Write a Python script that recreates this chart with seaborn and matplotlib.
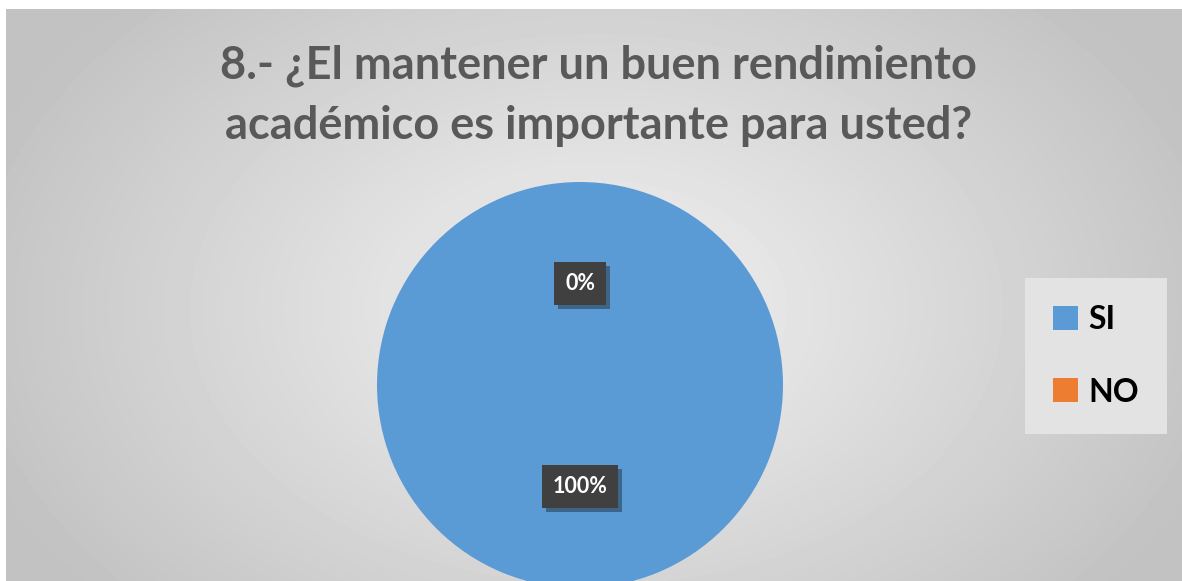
import numpy as np
import seaborn as sns
import matplotlib.pyplot as plt
import matplotlib.patheffects as pe
from matplotlib.patches import Patch

# data
categories = ["SI", "NO"]
values = [100, 0]
title = "8.- ¿El mantener un buen rendimiento\nacadémico es importante para usted?"

sns.set_theme(style="white")
plt.rcParams['font.family'] = ['Lato', 'DejaVu Sans']
colors = sns.color_palette(["#5B9BD5", "#ED7D31"])

fig = plt.figure(figsize=(11.82, 5.81), dpi=100, facecolor="white")

# radial grey background of the chart area
bg = fig.add_axes([6 / 1182, 0, 1176 / 1182, 572 / 581])
yy, xx = np.mgrid[0:572, 0:1176]
r = np.sqrt(((xx - 590) / 620) ** 2 + ((yy - 300) / 420) ** 2)
shade = np.clip(0.95 - 0.18 * r, 0.76, 0.95)
bg.imshow(shade, cmap="gray", vmin=0, vmax=1, aspect="auto", interpolation="bilinear")
bg.set_axis_off()

fig.text(0.506, 1 - 96 / 581, title, ha="center", va="center", fontsize=32.5,
         fontweight="bold", color="#595959", linespacing=1.52)

# pie
ax = fig.add_axes([377 / 1182, -7 / 581, 406 / 1182, 406 / 581])
wedges, texts, autotexts = ax.pie(values, colors=colors, startangle=90, counterclock=False,
                                  autopct="%1.0f%%", pctdistance=0.5,
                                  wedgeprops=dict(edgecolor="none", linewidth=0),
                                  textprops=dict(color="white", fontsize=15.5, fontweight="bold"))
ax.set_xlim(-1, 1)
ax.set_ylim(-1, 1)
ax.set_aspect("equal")
for t in autotexts:
    t.set_bbox(dict(boxstyle="square,pad=0.5", facecolor="#404040", edgecolor="none"))
    t.get_bbox_patch().set_path_effects([pe.withSimplePatchShadow(offset=(3, -3), alpha=0.4)])

# legend
handles = [Patch(facecolor=c, edgecolor="none") for c in colors]
leg = fig.legend(handles, categories, loc="center", bbox_to_anchor=(1096 / 1182, 1 - 356 / 581),
                 frameon=True, fancybox=False, framealpha=1, facecolor="#e3e3e3", edgecolor="none",
                 prop=dict(size=23, weight="bold"), handlelength=0.78, handleheight=0.78,
                 handletextpad=0.35, labelspacing=1.35, borderpad=0.85, borderaxespad=0)
for txt in leg.get_texts():
    txt.set_color("black")

fig.savefig("out.png", dpi=100, facecolor="white")
